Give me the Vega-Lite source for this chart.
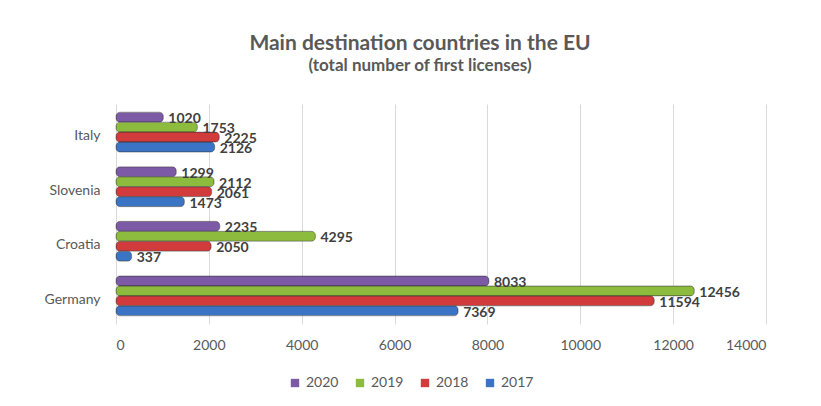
{
  "$schema": "https://vega.github.io/schema/vega-lite/v6.json",
  "width": 650,
  "height": 220,
  "autosize": {"type": "none"},
  "padding": {"left": 116, "top": 104, "right": 55, "bottom": 82},
  "background": "white",
  "title": {
    "text": "Main destination countries in the EU",
    "subtitle": "(total number of first licenses)",
    "font": "Lato",
    "subtitleFont": "Lato",
    "fontSize": 21,
    "subtitleFontSize": 17,
    "fontWeight": "bold",
    "subtitleFontWeight": "bold",
    "color": "#595959",
    "subtitleColor": "#595959",
    "anchor": "middle",
    "dx": -21,
    "offset": 30,
    "subtitlePadding": 4
  },
  "data": {
    "values": [
      {"country": "Italy", "year": "2020", "value": 1020},
      {"country": "Italy", "year": "2019", "value": 1753},
      {"country": "Italy", "year": "2018", "value": 2225},
      {"country": "Italy", "year": "2017", "value": 2126},
      {"country": "Slovenia", "year": "2020", "value": 1299},
      {"country": "Slovenia", "year": "2019", "value": 2112},
      {"country": "Slovenia", "year": "2018", "value": 2061},
      {"country": "Slovenia", "year": "2017", "value": 1473},
      {"country": "Croatia", "year": "2020", "value": 2235},
      {"country": "Croatia", "year": "2019", "value": 4295},
      {"country": "Croatia", "year": "2018", "value": 2050},
      {"country": "Croatia", "year": "2017", "value": 337},
      {"country": "Germany", "year": "2020", "value": 8033},
      {"country": "Germany", "year": "2019", "value": 12456},
      {"country": "Germany", "year": "2018", "value": 11594},
      {"country": "Germany", "year": "2017", "value": 7369}
    ]
  },
  "encoding": {
    "y": {
      "field": "country",
      "type": "nominal",
      "sort": ["Italy", "Slovenia", "Croatia", "Germany"],
      "scale": {"paddingInner": 0.27, "paddingOuter": 0.15},
      "axis": {
        "title": null,
        "domain": false,
        "ticks": false,
        "labelFont": "Lato",
        "labelFontSize": 14,
        "labelColor": "#595959",
        "labelPadding": 16,
        "labelOffset": 4
      }
    },
    "yOffset": {
      "field": "year",
      "type": "nominal",
      "sort": ["2020", "2019", "2018", "2017"]
    },
    "x": {
      "field": "value",
      "type": "quantitative",
      "scale": {"domain": [0, 14000]},
      "axis": {
        "title": null,
        "domain": false,
        "ticks": false,
        "format": "d",
        "values": [0, 2000, 4000, 6000, 8000, 10000, 12000, 14000],
        "gridColor": "#d9d9d9",
        "labelFont": "Lato",
        "labelFontSize": 14,
        "labelColor": "#595959",
        "labelPadding": 14
      }
    }
  },
  "layer": [
    {
      "mark": {"type": "bar", "cornerRadius": 4, "strokeWidth": 0.8, "strokeOpacity": 0.5, "stroke": "#333333"},
      "encoding": {
        "color": {
          "field": "year",
          "type": "nominal",
          "scale": {
            "domain": ["2020", "2019", "2018", "2017"],
            "range": ["#7d5aa6", "#8cbb3e", "#d23b3b", "#3b74c4"]
          },
          "legend": {
            "title": null,
            "orient": "none",
            "direction": "horizontal",
            "legendX": 172,
            "legendY": 272,
            "symbolType": "square",
            "symbolSize": 70,
            "labelFont": "Lato",
            "labelFontSize": 14,
            "labelColor": "#595959",
            "columnPadding": 14,
            "symbolStrokeWidth": 0
          }
        }
      }
    },
    {
      "mark": {"type": "text", "align": "left", "baseline": "middle", "dx": 5, "dy": 2, "font": "Lato", "fontSize": 14, "fontWeight": "bold", "color": "#404040"},
      "encoding": {
        "text": {"field": "value", "type": "quantitative", "format": "d"}
      }
    }
  ],
  "config": {
    "view": {"stroke": null}
  }
}
